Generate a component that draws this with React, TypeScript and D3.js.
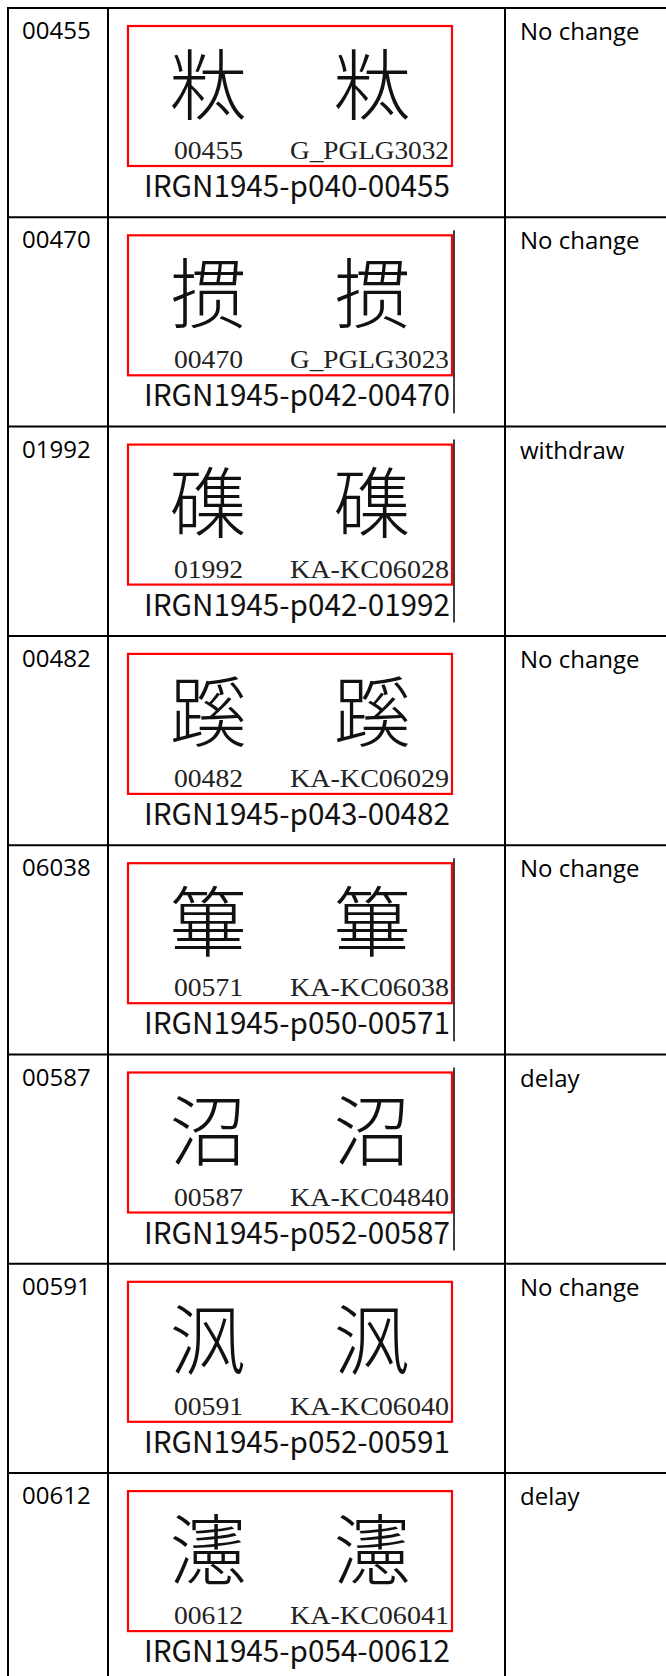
import { useEffect, useRef } from "react";
import * as d3 from "d3";

// table content, one entry per row
const codes = ["00455", "00470", "01992", "00482", "06038", "00587", "00591", "00612"];
const statuses = ["No change", "No change", "withdraw", "No change", "No change", "delay", "No change", "delay"];
const glyphs = ["粏", "掼", "磼", "蹊", "篳", "沼", "沨", "瀗"];
const serials = ["00455", "00470", "01992", "00482", "00571", "00587", "00591", "00612"];
const sources = ["G_PGLG3032", "G_PGLG3023", "KA-KC06028", "KA-KC06029", "KA-KC06038", "KA-KC04840", "KA-KC06040", "KA-KC06041"];
const pages = ["p040", "p042", "p042", "p043", "p050", "p052", "p052", "p054"];
const withCursor = [false, true, true, false, true, true, false, false];

const W = 666;
const H = 1676;

const App = () => {
  const svgRef = useRef<SVGSVGElement>(null);

  useEffect(() => {
    const svg = d3.select(svgRef.current);
    svg.selectAll("*").remove();

    const top = 8;
    const rowH = 209.3;
    const colEdges = [8, 108, 505, 668];

    const y = d3
      .scaleBand<number>()
      .domain(d3.range(codes.length))
      .range([top, top + rowH * codes.length])
      .padding(0);

    svg.append("rect").attr("width", W).attr("height", H).attr("fill", "#fff");

    const rows = svg
      .selectAll("g.row")
      .data(d3.range(codes.length))
      .join("g")
      .attr("class", "row")
      .attr("transform", (i) => `translate(0,${y(i)})`);

    // first column id
    rows
      .append("text")
      .attr("x", colEdges[0] + 14)
      .attr("y", 31)
      .attr("font-family", "'Open Sans', 'Noto Sans', sans-serif")
      .attr("font-size", 24)
      .attr("fill", "#000")
      .text((i) => codes[i]);

    // status column
    rows
      .append("text")
      .attr("x", colEdges[2] + 15)
      .attr("y", 32)
      .attr("font-family", "'Open Sans', 'Noto Sans', sans-serif")
      .attr("font-size", 24)
      .attr("fill", "#000")
      .text((i) => statuses[i]);

    // glyph picture in the middle column
    const pic = rows.append("g");

    pic
      .append("rect")
      .attr("x", 128)
      .attr("y", 18)
      .attr("width", 324)
      .attr("height", 140)
      .attr("fill", "none")
      .attr("stroke", "#ff0000")
      .attr("stroke-width", 2.2);

    [208, 372].forEach((cx) => {
      pic
        .append("text")
        .attr("x", cx)
        .attr("y", 72)
        .attr("text-anchor", "middle")
        .attr("dominant-baseline", "central")
        .attr("font-family", "'Noto Sans CJK JP', 'Noto Sans CJK SC', sans-serif")
        .attr("font-weight", 300)
        .attr("font-size", 77)
        .attr("fill", "#111")
        .text((i) => glyphs[i]);
    });

    pic
      .append("text")
      .attr("x", 174)
      .attr("y", 151)
      .attr("textLength", 69)
      .attr("lengthAdjust", "spacingAndGlyphs")
      .attr("font-family", "'Liberation Serif', 'DejaVu Serif', serif")
      .attr("font-size", 26)
      .attr("fill", "#222")
      .text((i) => serials[i]);

    pic
      .append("text")
      .attr("x", 290)
      .attr("y", 151)
      .attr("textLength", 159)
      .attr("lengthAdjust", "spacingAndGlyphs")
      .attr("font-family", "'Liberation Serif', 'DejaVu Serif', serif")
      .attr("font-size", 26)
      .attr("fill", "#222")
      .text((i) => sources[i]);

    pic
      .append("text")
      .attr("x", 144)
      .attr("y", 189)
      .attr("textLength", 306)
      .attr("lengthAdjust", "spacingAndGlyphs")
      .attr("font-family", "'Noto Sans CJK JP', 'DejaVu Sans', sans-serif")
      .attr("font-size", 30)
      .attr("fill", "#111")
      .text((i) => `IRGN1945-${pages[i]}-${serials[i]}`);

    pic
      .filter((i) => withCursor[i])
      .append("line")
      .attr("x1", 454)
      .attr("x2", 454)
      .attr("y1", 13)
      .attr("y2", 196)
      .attr("stroke", "#000")
      .attr("stroke-width", 1.5);

    // grid lines
    const hLines = d3.range(codes.length + 1).map((i) => top + i * rowH);
    svg
      .selectAll("line.h")
      .data(hLines)
      .join("line")
      .attr("class", "h")
      .attr("x1", colEdges[0] - 1)
      .attr("x2", colEdges[3])
      .attr("y1", (d) => d)
      .attr("y2", (d) => d)
      .attr("stroke", "#000")
      .attr("stroke-width", 2);

    svg
      .selectAll("line.v")
      .data(colEdges)
      .join("line")
      .attr("class", "v")
      .attr("x1", (d) => d)
      .attr("x2", (d) => d)
      .attr("y1", top - 1)
      .attr("y2", top + rowH * codes.length + 1)
      .attr("stroke", "#000")
      .attr("stroke-width", 2);
  }, []);

  return (
    <svg
      ref={svgRef}
      width={W}
      height={H}
      style={{ position: "absolute", left: 0, top: 0, display: "block" }}
    />
  );
};

export default App;
